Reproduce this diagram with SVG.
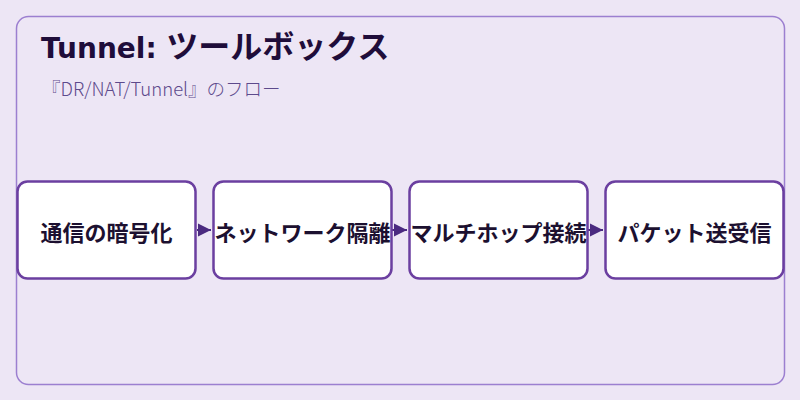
<svg xmlns="http://www.w3.org/2000/svg" width="800" height="400" viewBox="0 0 800 400">
<defs>
<style>
.frame{fill:#ede6f5;stroke:#9c7fd0;stroke-width:1.5}
.node rect{fill:#ffffff;stroke:#6b3fa0;stroke-width:2.5}
.node text{font-family:"Noto Sans CJK JP","Noto Sans",sans-serif;font-weight:bold;font-size:22px;fill:#1c1030;text-anchor:middle;dominant-baseline:central}
.title{font-family:"DejaVu Sans","Noto Sans CJK JP",sans-serif;font-weight:bold;font-size:28px;fill:#1f0d3a}
.title .jp{font-family:"Noto Sans CJK JP",sans-serif;font-size:32px}
.sub{font-family:"Noto Sans CJK JP","Noto Sans",sans-serif;font-size:18.5px;font-weight:300;fill:#5d4a8c}
.conn line{stroke:#4b2a80;stroke-width:2}
</style>
<marker id="arr" viewBox="0 0 10 10" refX="10" refY="5" markerWidth="13" markerHeight="16" markerUnits="userSpaceOnUse" orient="auto">
<path d="M0,0 L10,5 L0,10 z" fill="#4b2a80"/>
</marker>
</defs>
<rect width="800" height="400" fill="#ede6f5"/>
<rect class="frame" x="16.5" y="16.5" width="768" height="368" rx="12"/>
<text class="title" x="41" y="58">Tunnel: <tspan class="jp">ツールボックス</tspan></text>
<text class="sub" x="42" y="96">『DR/NAT/Tunnel』のフロー</text>
<g id="connectors" class="conn">
<line x1="197" y1="230" x2="211" y2="230" marker-end="url(#arr)"/>
<line x1="392" y1="230" x2="407" y2="230" marker-end="url(#arr)"/>
<line x1="588" y1="230" x2="603" y2="230" marker-end="url(#arr)"/>
</g>
<g id="node1" class="node"><rect x="17.5" y="181.5" width="178" height="97" rx="10"/><text x="106.5" y="231">通信の暗号化</text></g>
<g id="node2" class="node"><rect x="213.5" y="181.5" width="178" height="97" rx="10"/><text x="302.5" y="231">ネットワーク隔離</text></g>
<g id="node3" class="node"><rect x="409.5" y="181.5" width="178" height="97" rx="10"/><text x="498.5" y="231">マルチホップ接続</text></g>
<g id="node4" class="node"><rect x="605.5" y="181.5" width="178" height="97" rx="10"/><text x="694.5" y="231">パケット送受信</text></g>
</svg>
